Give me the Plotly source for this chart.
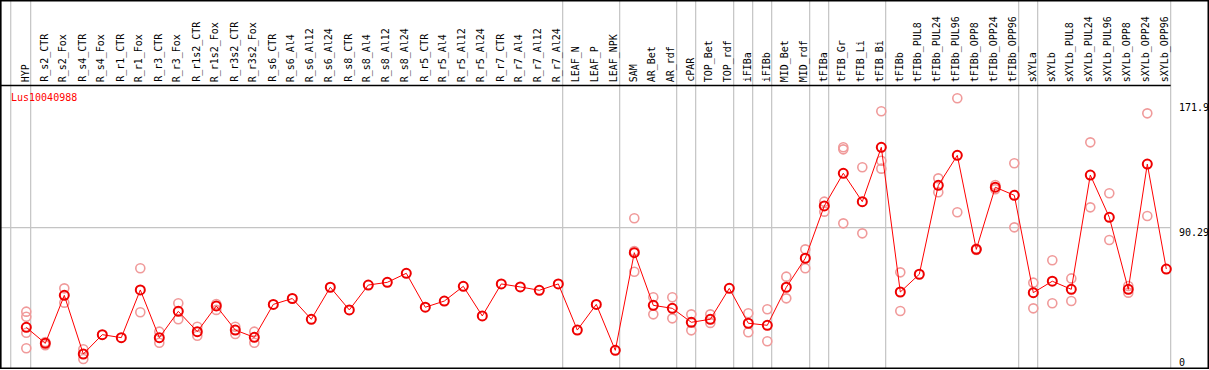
import plotly.graph_objects as go

categories = ["HYP", "R_s2_CTR", "R_s2_Fox", "R_s4_CTR", "R_s4_Fox", "R_r1_CTR", "R_r1_Fox",
              "R_r3_CTR", "R_r3_Fox", "R_r1s2_CTR", "R_r1s2_Fox", "R_r3s2_CTR", "R_r3s2_Fox",
              "R_s6_CTR", "R_s6_Al4", "R_s6_Al12", "R_s6_Al24", "R_s8_CTR", "R_s8_Al4", "R_s8_Al12",
              "R_s8_Al24", "R_r5_CTR", "R_r5_Al4", "R_r5_Al12", "R_r5_Al24", "R_r7_CTR", "R_r7_Al4",
              "R_r7_Al12", "R_r7_Al24", "LEAF_N", "LEAF_P", "LEAF_NPK", "SAM", "AR_Bet", "AR_rdf",
              "cPAR", "TOP_Bet", "TOP_rdf", "iFIBa", "iFIBb", "MID_Bet", "MID_rdf", "tFIBa",
              "tFIB_Gr", "tFIB_Li", "tFIB_Bi", "tFIBb", "tFIBb_PUL8", "tFIBb_PUL24", "tFIBb_PUL96",
              "tFIBb_OPP8", "tFIBb_OPP24", "tFIBb_OPP96", "sXYLa", "sXYLb", "sXYLb_PUL8",
              "sXYLb_PUL24", "sXYLb_PUL96", "sXYLb_OPP8", "sXYLb_OPP24", "sXYLb_OPP96"]

means = [27.4, 17.3, 47.6, 10.6, 22.8, 20.9, 51.0, 20.9, 37.5, 24.7, 40.9, 25.7, 21.1,
         41.9, 45.6, 32.5, 52.7, 38.4, 54.1, 55.8, 61.5, 40.1, 44.0, 53.3, 34.6, 54.8, 52.9,
         50.8, 54.8, 25.7, 41.9, 12.9, 74.5, 41.3, 39.4, 30.6, 32.5, 52.0, 30.0, 28.7, 52.7,
         71.0, 104.0, 124.6, 106.7, 141.0, 49.7, 60.9, 117.0, 135.9, 76.6, 115.8, 110.7,
         49.3, 56.5, 51.4, 123.5, 96.8, 51.4, 130.4, 64.2]

replicates = [
    [37.3, 34.1, 24.0, 14.2], [18.2, 16.1], [52.0, 43.0], [13.6, 7.4], [], [], [64.7, 36.9],
    [24.7, 17.7], [42.6, 32.5], [27.8, 22.1], [42.1, 38.4], [27.8, 23.2], [24.7, 17.7],
    [], [], [], [], [], [], [], [], [], [], [], [], [], [], [], [],
    [], [], [], [96.2, 75.5, 62.5], [46.4, 35.6], [46.4, 33.1], [35.6, 25.5], [35.6, 30.2], [],
    [36.3, 24.3], [38.8, 18.6], [59.4, 45.7], [76.6, 64.7], [106.7, 100.4],
    [141.0, 139.7, 93.0], [128.4, 86.7], [163.7, 132.5, 127.5], [62.1, 37.7], [],
    [121.4, 112.6], [171.9, 100.0], [77.0, 76.2], [117.2, 114.5], [130.9, 90.5],
    [55.6, 39.4], [69.7, 42.6], [58.3, 44.0], [144.1, 103.1], [112.0, 82.5], [53.5, 49.3],
    [162.4, 97.6], []]

group_ends = [0, 28, 31, 34, 35, 37, 38, 39, 41, 42, 45, 52, 53, 60]
axis_labels = ["171.9", "90.29", "0"]
gene = "Lus10040988"

W, H = 1209, 370
PH = 368  # plot height in px


def px(x):
    return x / W


def py(y):
    return 1 - y / PH


xs = list(range(len(categories)))
rx, ry = [], []
for i, reps in enumerate(replicates):
    for v in reps:
        rx.append(i)
        ry.append(v)

fig = go.Figure()
fig.add_trace(go.Scatter(x=rx, y=ry, mode="markers",
                         marker=dict(symbol="circle-open", size=9, color="#f09a9a",
                                     line=dict(width=1.6, color="#f09a9a")),
                         showlegend=False, hoverinfo="skip"))
fig.add_trace(go.Scatter(x=xs, y=means, mode="lines+markers",
                         line=dict(color="#ff0000", width=1),
                         marker=dict(symbol="circle-open", size=9, color="#ee0000",
                                     line=dict(width=2, color="#ee0000")),
                         showlegend=False))

shapes = []
sep_pos = [-0.82] + [g + 0.23 for g in group_ends]
for s in sep_pos:
    shapes.append(dict(type="line", xref="x", yref="paper", x0=s, x1=s, y0=0, y1=1,
                       line=dict(color="#c4c4c4", width=1.2), layer="below"))
shapes.append(dict(type="line", xref="paper", yref="paper", x0=0, x1=px(1170.7),
                   y0=py(227.7), y1=py(227.7), line=dict(color="#c4c4c4", width=1.2),
                   layer="below"))
shapes.append(dict(type="line", xref="paper", yref="paper", x0=0, x1=px(1170.7),
                   y0=py(85.5), y1=py(85.5), line=dict(color="black", width=1.5)))
shapes.append(dict(type="rect", xref="paper", yref="paper", x0=px(0.8), x1=px(1208.3),
                   y0=py(368.3), y1=py(0.8), line=dict(color="black", width=1.6)))

annotations = []
for i, c in enumerate(categories):
    annotations.append(dict(x=i - 0.05, y=py(84), xref="x", yref="paper", text=c,
                            textangle=-90, showarrow=False, xanchor="center", yanchor="bottom",
                            font=dict(family="DejaVu Sans Mono", size=10, color="black")))
annotations.append(dict(x=px(9), y=py(97.5), xref="paper", yref="paper", text=gene,
                        showarrow=False, xanchor="left", yanchor="middle",
                        font=dict(family="DejaVu Sans Mono", size=10, color="red")))
for lab, ypx in zip(axis_labels, [107, 232.5, 362]):
    annotations.append(dict(x=px(1177), y=py(ypx), xref="paper", yref="paper", text=lab,
                            showarrow=False, xanchor="left", yanchor="middle",
                            font=dict(family="DejaVu Sans Mono", size=10, color="black")))

x0 = (0 - 26.3) / 19
x1 = (W - 26.3) / 19
fig.update_layout(
    width=W, height=H,
    margin=dict(l=0, r=0, t=0, b=H - PH),
    paper_bgcolor="white", plot_bgcolor="white",
    xaxis=dict(range=[x0, x1], visible=False, fixedrange=True),
    yaxis=dict(range=[233.9 - PH * 0.6308, 233.9], visible=False, fixedrange=True),
    shapes=shapes, annotations=annotations,
)
fig.write_html("out.html", config={"displayModeBar": False},
               post_script="document.body.style.margin='0';document.body.style.overflow='hidden';")
